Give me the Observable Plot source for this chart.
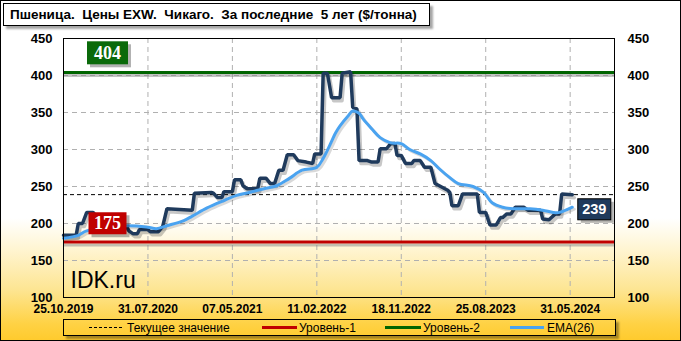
<!DOCTYPE html>
<html><head><meta charset="utf-8">
<script src="https://cdn.jsdelivr.net/npm/d3@7"></script>
<script src="https://cdn.jsdelivr.net/npm/@observablehq/plot@0.6"></script>
<style>
html,body{margin:0;padding:0;background:#fff;}
#wrap{position:relative;width:681px;height:341px;overflow:hidden;
  background:linear-gradient(to bottom,#ffffff 0%,#ffffff 64%,#fff5d2 73%,#fde592 85%,#ffd244 95%,#ffca2c 100%);
  font-family:"Liberation Sans",Arial,sans-serif;}
#chart{position:absolute;left:0;top:0;}
#border{position:absolute;left:0;top:0;width:681px;height:341px;box-sizing:border-box;border:1px solid #000;pointer-events:none;}
#title{position:absolute;left:3px;top:3px;width:427px;height:23px;box-sizing:border-box;background:#fff;border:1px solid #000;
  box-shadow:3px 3px 2px rgba(0,0,0,0.35);font-weight:bold;font-size:13.5px;line-height:21px;padding-left:6px;white-space:pre;color:#000;}
#legend{position:absolute;left:63px;top:319px;width:553px;height:17px;box-sizing:border-box;border:1px solid #000;
  box-shadow:3px 3px 2px rgba(0,0,0,0.35);font-size:12px;color:#000;}
#legend span{position:absolute;top:1px;line-height:14px;white-space:nowrap;}
#legend i{position:absolute;top:6px;height:3px;display:block;}
</style></head>
<body>
<div id="wrap">
  <div id="chart"></div>
  <div id="title"></div>
  <div id="legend"></div>
  <div id="border"></div>
</div>
<script>
// ---- data ----
const titleText = "Пшеница.  Цены EXW.  Чикаго.  За последние  5 лет ($/тонна)";
const startDate = "25.10.2019";
const endDate = "25.10.2024";
const xTickLabels = ["25.10.2019","31.07.2020","07.05.2021","11.02.2022","18.11.2022","25.08.2023","31.05.2024"];
const yTicks = [100,150,200,250,300,350,400,450];
// weekly price series (weeks since 25.10.2019)
const priceWeeks = [0,6,7,9,11,14,17,22,27,30,31,33,35,36,40,41,45,47,49,61,62,70,71,73,75,76,80,81,84,85,87,92,93,96,98,100,102,104,106,109,111,115,118,119,122,123,125,127,131,132,136,137,139,140,144,146,149,150,153,155,157,158,160,162,165,166,169,171,174,176,178,182,183,184,187,189,196,197,200,202,205,207,208,210,212,214,218,220,226,227,230,233,235,236,241];
const priceValues = [184,184,200,200,215,215,205,200,198,195,190,186,186,192,192,189,189,196,220,218,241,242,241,235,235,243,243,259,259,251,247,247,261,261,254,254,272,272,293,293,285,283,281,294,294,403,403,370,370,403,405,357,355,285,285,283,283,301,301,308,308,292,292,281,281,285,285,276,276,254,251,245,242,224,224,240,240,215,215,198,198,208,208,213,213,222,222,218,218,206,205,213,213,240,239];
// EMA(26)
const emaWeeks = [0,7,11,30,40,44,49,57,61,68,76,82,88,95,101,107,113,120,123,126,129,131,135,137,140,142,146,150,155,160,164,169,174,178,183,187,194,199,203,208,213,221,227,232,235,241];
const emaValues = [180,184,190,197,195,193,197,204,210,221,231,238,242,247,251,261,272,276,288,305,323,332,346,352,349,341,328,316,309,308,300,294,285,274,262,254,250,242,228,222,220,220,218,215,215,222];
const currentValue = 239;
const level1 = 175;
const level2 = 404;
const watermark = "IDK.ru";
const legendItems = ["Текущее значение","Уровень-1","Уровень-2","EMA(26)"];

// ---- build ----
const parse = d3.utcParse("%d.%m.%Y");
const fmt = d3.utcFormat("%d.%m.%Y");
const start = parse(startDate), end = parse(endDate);
const wk = w => d3.utcDay.offset(start, 7 * w);
const price = priceWeeks.map((w, i) => ({date: wk(w), value: priceValues[i]}));
const ema = emaWeeks.map((w, i) => ({date: wk(w), value: emaValues[i]}));
const xTicks = xTickLabels.map(parse);
const last = price[price.length - 1];

const C_PRICE = "#1f3a5c", C_EMA = "#4aa3f0", C_L1 = "#c00000", C_L2 = "#006400";

const chart = Plot.plot({
  width: 681, height: 341,
  marginLeft: 63, marginRight: 67, marginTop: 38, marginBottom: 44,
  x: {type: "utc", domain: [start, end]},
  y: {domain: [100, 450]},
  style: {background: "transparent", fontFamily: "Liberation Sans, Arial, sans-serif", color: "#000", overflow: "visible"},
  marks: [
    Plot.gridY([150,200,250,300,350,400], {stroke: "#b0b0b0", strokeOpacity: 1, strokeDasharray: "5,4"}),
    Plot.gridX(xTicks, {stroke: "#b0b0b0", strokeOpacity: 1, strokeDasharray: "5,4"}),
    Plot.axisY(yTicks, {anchor: "left", tickSize: 0, tickPadding: 11, fontSize: 13, fontWeight: "bold", label: null}),
    Plot.axisY(yTicks, {anchor: "right", tickSize: 0, tickPadding: 13, fontSize: 13, fontWeight: "bold", label: null}),
    Plot.axisX(xTicks, {tickSize: 0, tickPadding: 7, fontSize: 12, fontWeight: "bold", tickFormat: fmt, label: null}),
    Plot.ruleY([currentValue], {stroke: "#000", strokeWidth: 1, strokeDasharray: "4,3"}),
    Plot.ruleY([level1], {stroke: "#888", strokeOpacity: 0.5, strokeWidth: 3, dy: 3}),
    Plot.ruleY([level2], {stroke: "#888", strokeOpacity: 0.5, strokeWidth: 3, dy: 3}),
    Plot.ruleY([level1], {stroke: C_L1, strokeWidth: 3}),
    Plot.ruleY([level2], {stroke: C_L2, strokeWidth: 3}),
    Plot.line(price, {x: "date", y: "value", stroke: "#000", strokeOpacity: 0.22, strokeWidth: 3.5, dx: 2, dy: 3}),
    Plot.line(price, {x: "date", y: "value", stroke: C_PRICE, strokeWidth: 3.5, strokeLinejoin: "miter"}),
    Plot.line(ema, {x: "date", y: "value", stroke: "#000", strokeOpacity: 0.15, strokeWidth: 3, dx: 2, dy: 2, curve: "catmull-rom"}),
    Plot.line(ema, {x: "date", y: "value", stroke: C_EMA, strokeWidth: 3, curve: "catmull-rom"}),
    Plot.frame({stroke: "#000", strokeWidth: 1}),
    Plot.text([watermark], {frameAnchor: "bottom-left", text: d => d, dx: 7, dy: -17, fontSize: 23, fill: "#000", lineAnchor: "middle", textAnchor: "start"}),
    Plot.text([level2], {y: d => d, frameAnchor: "left", textAnchor: "middle", dx: 44, dy: -19.5, text: d => String(d), fill: "#fff", fontSize: 18, fontWeight: "bold", fontFamily: "Liberation Serif, Times New Roman, serif"}),
    Plot.text([level1], {y: d => d, frameAnchor: "left", textAnchor: "middle", dx: 44, dy: -18.5, text: d => String(d), fill: "#fff", fontSize: 18, fontWeight: "bold", fontFamily: "Liberation Serif, Times New Roman, serif"}),
    Plot.text([last], {x: "date", y: () => currentValue, textAnchor: "middle", dx: 22, dy: 15, text: () => String(currentValue), fill: "#fff", fontSize: 14.5, fontWeight: "bold"})
  ]
});
document.getElementById("chart").appendChild(chart);

// value-label boxes behind the label texts
const boxes = {[String(level2)]: {w: 41, h: 23, fill: "#0a6a0a", stroke: "none"},
               [String(level1)]: {w: 38, h: 22, fill: "#c00000", stroke: "none"},
               [String(currentValue)]: {w: 33, h: 21, fill: "#1f3a5c", stroke: "#000"}};
chart.querySelectorAll('g[aria-label="text"] text').forEach(t => {
  const b = boxes[t.textContent];
  if (!b) return;
  const bb = t.getBBox();
  const cx = bb.x + bb.width / 2, cy = bb.y + bb.height / 2;
  const ns = "http://www.w3.org/2000/svg";
  const g = t.parentNode;
  const sh = document.createElementNS(ns, "rect");
  sh.setAttribute("x", cx - b.w / 2 + 3); sh.setAttribute("y", cy - b.h / 2 + 3);
  sh.setAttribute("width", b.w); sh.setAttribute("height", b.h);
  sh.setAttribute("fill", "rgba(0,0,0,0.3)");
  const r = document.createElementNS(ns, "rect");
  r.setAttribute("x", cx - b.w / 2); r.setAttribute("y", cy - b.h / 2);
  r.setAttribute("width", b.w); r.setAttribute("height", b.h);
  r.setAttribute("fill", b.fill);
  if (b.stroke !== "none") r.setAttribute("stroke", b.stroke);
  const tr = t.getAttribute("transform");
  if (tr) { sh.setAttribute("transform", tr); r.setAttribute("transform", tr); }
  g.insertBefore(sh, t); g.insertBefore(r, t);
});

document.getElementById("title").textContent = titleText;

const lg = document.getElementById("legend");
const sw = [
  {l: 25, w: 33, style: `border-top:1px dashed #000;height:0;top:7px;background:none;`, tl: 63},
  {l: 198, w: 35, style: `background:${C_L1};`, tl: 235},
  {l: 321, w: 36, style: `background:${C_L2};`, tl: 359},
  {l: 446, w: 34, style: `background:${C_EMA};`, tl: 483}
];
sw.forEach((s, i) => {
  const ii = document.createElement("i");
  ii.style.cssText = `left:${s.l}px;width:${s.w}px;` + s.style;
  lg.appendChild(ii);
  const sp = document.createElement("span");
  sp.style.left = s.tl + "px";
  sp.textContent = legendItems[i];
  lg.appendChild(sp);
});
</script>
</body></html>
